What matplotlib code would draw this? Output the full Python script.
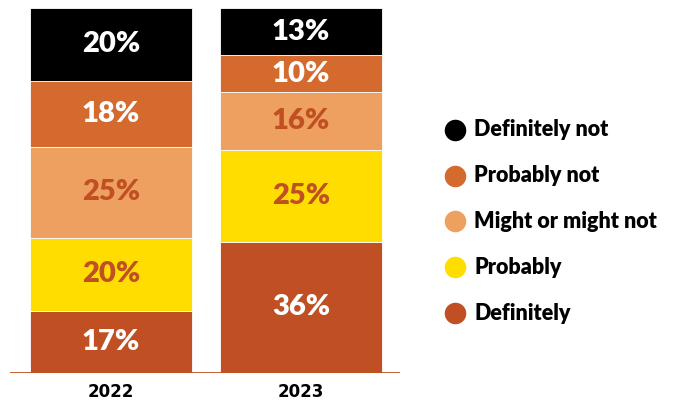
import matplotlib
matplotlib.use("Agg")
import matplotlib.pyplot as plt
from matplotlib.lines import Line2D

years = ["2022", "2023"]
categories = ["Definitely", "Probably", "Might or might not", "Probably not", "Definitely not"]
shares = {
    "Definitely": [17, 36],
    "Probably": [20, 25],
    "Might or might not": [25, 16],
    "Probably not": [18, 10],
    "Definitely not": [20, 13],
}
colors = {
    "Definitely": "#C05024",
    "Probably": "#FFDD00",
    "Might or might not": "#EEA060",
    "Probably not": "#D46A2E",
    "Definitely not": "#000000",
}
label_colors = {
    "Definitely": "white",
    "Probably": "#C05024",
    "Might or might not": "#C05024",
    "Probably not": "white",
    "Definitely not": "white",
}

plt.rcParams["font.family"] = ["Lato", "DejaVu Sans"]

fig = plt.figure(figsize=(6.88, 4.05), dpi=100)
ax = fig.add_axes([10 / 688, 32 / 405, 390 / 688, 365 / 405])

x = list(range(len(years)))
bottom = [0] * len(years)
for cat in categories:
    vals = shares[cat]
    ax.bar(x, vals, bottom=bottom, width=0.853, color=colors[cat],
           edgecolor="white", linewidth=0.6)
    for i, v in enumerate(vals):
        ax.text(x[i], bottom[i] + v / 2, f"{v}%", ha="center", va="center",
                fontsize=21, fontweight="heavy", color=label_colors[cat])
    bottom = [b + v for b, v in zip(bottom, vals)]

ax.axhline(0, color="#C05024", linewidth=2, zorder=3)
ax.set_xlim(-0.532, 1.521)
ax.set_ylim(0, 100)
ax.set_xticks(x)
ax.set_xticklabels(years, fontsize=12, fontweight="bold", family="DejaVu Sans")
ax.tick_params(axis="x", length=0, pad=7)
ax.set_yticks([])
for s in ax.spines.values():
    s.set_visible(False)

# legend, top to bottom
rows_y = [130, 176, 221, 267, 313]
for cat, y in zip(reversed(categories), rows_y):
    fy = 1 - y / 405
    fig.add_artist(Line2D([455 / 688], [fy], marker="o", markersize=14.5,
                          color=colors[cat], transform=fig.transFigure))
    fig.text(474 / 688, fy, cat, ha="left", va="center", fontsize=15.5,
             fontweight="heavy", color="black")

fig.savefig("out.png", dpi=100)
